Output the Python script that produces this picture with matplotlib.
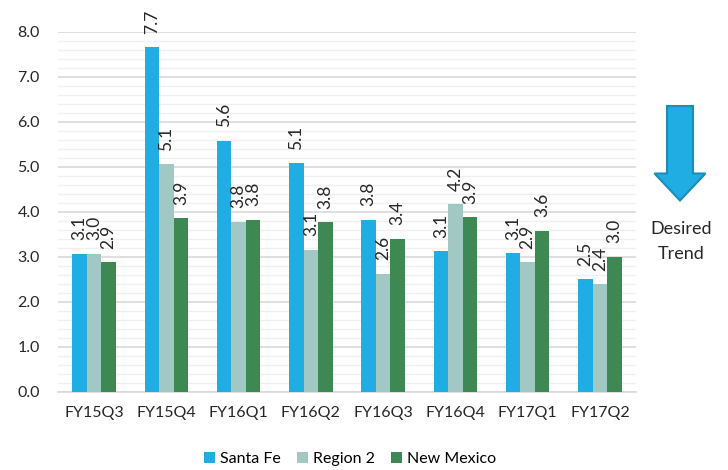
import numpy as np
import matplotlib.pyplot as plt
from matplotlib.patches import FancyArrow

plt.rcParams['font.family'] = ['Lato', 'DejaVu Sans']

quarters = ['FY15Q3', 'FY15Q4', 'FY16Q1', 'FY16Q2', 'FY16Q3', 'FY16Q4', 'FY17Q1', 'FY17Q2']
santa_fe = [3.07, 7.65, 5.58, 5.08, 3.82, 3.12, 3.08, 2.50]
region2 = [3.06, 5.05, 3.78, 3.15, 2.62, 4.17, 2.88, 2.39]
new_mexico = [2.88, 3.85, 3.82, 3.77, 3.40, 3.88, 3.58, 3.00]
santa_fe_lbl = ['3.1', '7.7', '5.6', '5.1', '3.8', '3.1', '3.1', '2.5']
region2_lbl = ['3.0', '5.1', '3.8', '3.1', '2.6', '4.2', '2.9', '2.4']
new_mexico_lbl = ['2.9', '3.9', '3.8', '3.8', '3.4', '3.9', '3.6', '3.0']

series = [('Santa Fe', santa_fe, santa_fe_lbl, '#1FADE4'),
          ('Region 2', region2, region2_lbl, '#A2C8C4'),
          ('New Mexico', new_mexico, new_mexico_lbl, '#3E8853')]

fig = plt.figure(figsize=(7.28, 4.7), dpi=100)
ax = fig.add_axes([58 / 728, 1 - 391.7 / 470, (636 - 58) / 728, 360 / 470])

x = np.arange(len(quarters))
w = 0.2
for i, (name, vals, lbls, col) in enumerate(series):
    pos = x + (i - 1) * w
    ax.bar(pos, vals, width=w, color=col, label=name, zorder=3)
    for p, v, t in zip(pos, vals, lbls):
        ax.text(p, v + 0.3, t, rotation=90, ha='center', va='bottom',
                fontsize=12.5, color='#262626', zorder=4)

ax.set_xlim(-0.5, 7.5)
ax.set_ylim(0, 8)
ax.set_yticks(np.arange(0, 8.01, 1.0))
ax.set_yticklabels([f'{t:.1f}' for t in np.arange(0, 8.01, 1.0)])
ax.set_yticks(np.arange(0, 8.01, 0.2), minor=True)
ax.set_xticks(x)
ax.set_xticklabels(quarters)
ax.grid(axis='y', which='major', color='#D9D9D9', linewidth=1.2, zorder=0)
ax.grid(axis='y', which='minor', color='#F0F0F0', linewidth=1.0, zorder=0)
ax.tick_params(axis='both', which='both', length=0, labelsize=11.5, colors='#262626')
ax.tick_params(axis='x', pad=10)
ax.tick_params(axis='y', pad=13)
for s in ['top', 'right', 'left']:
    ax.spines[s].set_visible(False)
ax.spines['bottom'].set_color('#D9D9D9')
ax.spines['bottom'].set_linewidth(1.2)

fig.legend(loc='center', bbox_to_anchor=(350 / 728, 1 - 459 / 470), ncol=3,
           frameon=False, fontsize=11.5, handlelength=0.7, handleheight=0.7,
           handletextpad=0.3, columnspacing=1.0)

# desired trend arrow
arrow_ax = fig.add_axes([0, 0, 1, 1], facecolor='none')
arrow_ax.set_xlim(0, 728)
arrow_ax.set_ylim(470, 0)
arrow_ax.axis('off')
arrow_ax.add_patch(FancyArrow(680, 106, 0, 94.5, width=26, head_width=51, head_length=27,
                              length_includes_head=True, facecolor='#1FADE4',
                              edgecolor='#1B8DB8', linewidth=1.5))
arrow_ax.text(681, 229, 'Desired', ha='center', va='center', fontsize=13, color='#262626')
arrow_ax.text(681, 254, 'Trend', ha='center', va='center', fontsize=13, color='#262626')

fig.savefig('out.png', dpi=100, facecolor='white')
